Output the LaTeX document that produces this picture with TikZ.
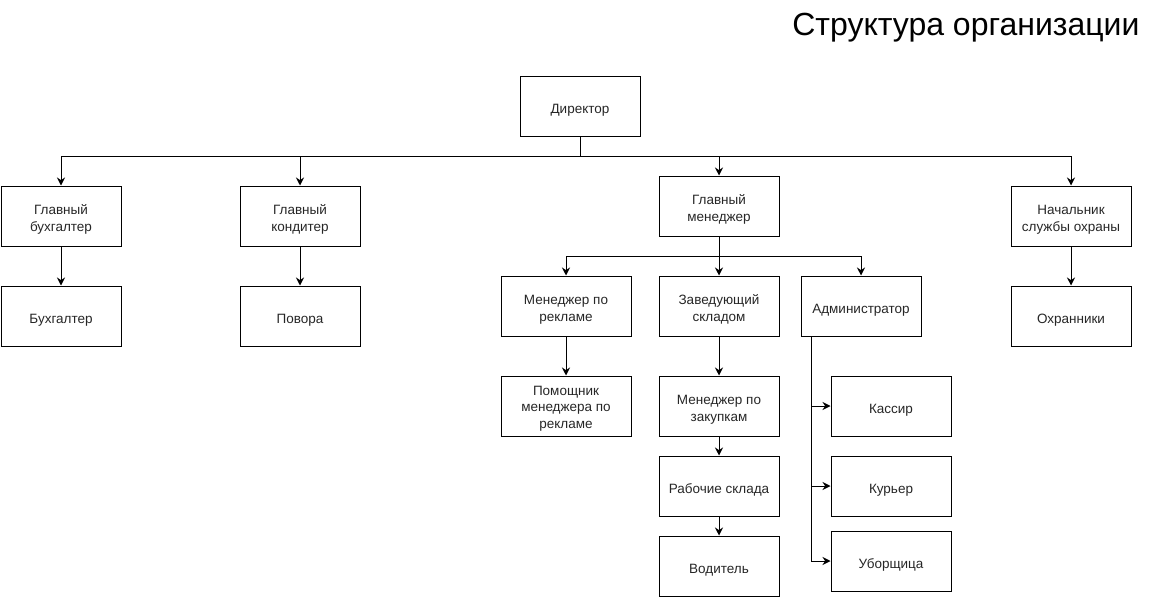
\documentclass[tikz,border=0pt]{standalone}
\usepackage{fontspec}
\setmainfont{Liberation Sans}
\usetikzlibrary{arrows.meta}

\begin{document}
\begin{tikzpicture}[x=1pt,y=-1pt,
    box/.style={draw, line width=1pt, minimum width=120pt, minimum height=60pt,
        align=center, inner sep=2pt, text=black!85,
        execute at begin node={\rule{0pt}{17pt}},
        font=\fontsize{13.5}{16.5}\selectfont},
    multi/.style={execute at begin node={\rule{0pt}{#1}}},
    multi/.default=33pt,
    link/.style={line width=1pt, -{Stealth[length=8pt,width=8pt]}}]
\useasboundingbox (0,0) rectangle (1151,597);

% Title
\node[anchor=east, font=\fontsize{32}{36}\selectfont] (title) at (1143,28) {Структура организации};

% Top level
\node[box] (dir) at (580,106) {Директор};

% Second level
\node[box, multi] (gbuh) at (61,216) {Главный\\бухгалтер};
\node[box, multi] (gkond) at (300,216) {Главный\\кондитер};
\node[box, multi] (gmen) at (719,206) {Главный\\менеджер};
\node[box, multi] (nach) at (1071,216) {Начальник\\службы охраны};

% Third level
\node[box] (buh) at (61,316) {Бухгалтер};
\node[box] (povar) at (300,316) {Повора};
\node[box] (ohr) at (1071,316) {Охранники};
\node[box, multi, minimum width=130pt] (mreklama) at (566,306) {Менеджер по\\рекламе};
\node[box, multi] (zavskl) at (719,306) {Заведующий\\складом};
\node[box] (adm) at (861,306) {Администратор};

% Lower levels
\node[box, multi=47pt, minimum width=130pt] (pomosh) at (566,406) {Помощник\\менеджера по\\рекламе};
\node[box, multi] (mzak) at (719,406) {Менеджер по\\закупкам};
\node[box] (rabskl) at (719,486) {Рабочие склада};
\node[box] (vod) at (719,566) {Водитель};
\node[box] (kas) at (891,406) {Кассир};
\node[box] (kur) at (891,486) {Курьер};
\node[box] (ub) at (891,561) {Уборщица};

% Director bus
\coordinate (dirbus) at (580,156);
\draw[line width=1pt] (dir.south) -- (dirbus);
\foreach \n in {gbuh, gkond, gmen, nach}
    \draw[link] (dirbus) -| (\n.north);

% Chief manager bus
\coordinate (menbus) at (719,256);
\draw[line width=1pt] (gmen.south) -- (menbus);
\foreach \n in {mreklama, zavskl, adm}
    \draw[link] (menbus) -| (\n.north);

% Vertical chains
\draw[link] (gbuh) -- (buh);
\draw[link] (gkond) -- (povar);
\draw[link] (nach) -- (ohr);
\draw[link] (mreklama) -- (pomosh);
\draw[link] (zavskl) -- (mzak);
\draw[link] (mzak) -- (rabskl);
\draw[link] (rabskl) -- (vod);

% Administrator branches
\coordinate (admtrunk) at ([xshift=-50pt]adm.south);
\foreach \n in {kas, kur, ub}
    \draw[link] (admtrunk) |- (\n.west);

\end{tikzpicture}
\end{document}
